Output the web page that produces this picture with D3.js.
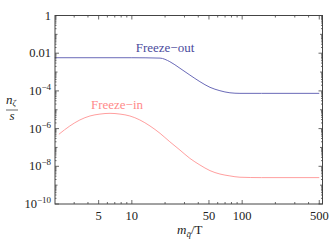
<!DOCTYPE html>
<html><head><meta charset="utf-8">
<script src="https://cdn.jsdelivr.net/npm/d3@7"></script>
<style>
html,body{margin:0;padding:0;background:#fff;}
</style></head>
<body>
<svg id="c" width="329" height="242"></svg>
<script>
// Data (x = m/T, y = log10(n/s))
const outX = [2, 10, 18, 22.1, 27.3, 33.6, 41.4, 51.1, 62.9, 77.5, 95.5, 150, 500];
const outY = [-2.24, -2.24, -2.26, -2.45, -2.80, -3.16, -3.51, -3.81, -3.99, -4.10, -4.13, -4.13, -4.13];
const inX = [2.18, 2.74, 3.38, 4.17, 5.14, 6.34, 7.8, 9.6, 11.8, 14.6, 18, 22.1, 27.3, 33.6, 41.4, 51.1, 62.9, 77.5, 95.5, 150, 500];
const inY = [-6.30, -5.86, -5.54, -5.33, -5.23, -5.19, -5.23, -5.33, -5.54, -5.86, -6.25, -6.70, -7.14, -7.58, -7.93, -8.23, -8.41, -8.51, -8.58, -8.60, -8.60];
const xTicks = [5, 10, 50, 100, 500];
const yTicks = [0, -2, -4, -6, -8, -10];
const yTickLabels = ["1", "0.01", "10|−4", "10|−6", "10|−8", "10|−10"];

const FF = "'Liberation Serif','Times New Roman','DejaVu Serif',serif";
const svg = d3.select("#c");
const L = 55, R = 322.5, T = 15.5, B = 204;
const x = d3.scaleLog().domain([2.01, 535]).range([L, R]);
const y = d3.scaleLinear().domain([-10, 0]).range([B, T]);
const frameCol = "#444";

// curves
const line = d3.line().x(d => x(d[0])).y(d => y(d[1])).curve(d3.curveMonotoneX);
svg.append("path").attr("d", line(inX.map((v,i)=>[v,inY[i]])))
  .attr("fill","none").attr("stroke","#ff9f9f").attr("stroke-width",1);
svg.append("path").attr("d", line(outX.map((v,i)=>[v,outY[i]])))
  .attr("fill","none").attr("stroke","#6a6ab8").attr("stroke-width",1);

// frame
svg.append("rect").attr("x",L).attr("y",T).attr("width",R-L).attr("height",B-T)
  .attr("fill","none").attr("stroke",frameCol).attr("stroke-width",1);

// ticks
const xMinor = [];
[1,10,100].forEach(d=>{for(let k=2;k<=9;k++){const v=k*d; if(v>=2.01&&v<=535&&!xTicks.includes(v)) xMinor.push(v);}});
const g = svg.append("g").attr("stroke",frameCol).attr("stroke-width",0.8);
xTicks.forEach(v=>{
  g.append("line").attr("x1",x(v)).attr("x2",x(v)).attr("y1",B).attr("y2",B-4);
  g.append("line").attr("x1",x(v)).attr("x2",x(v)).attr("y1",T).attr("y2",T+4);
});
xMinor.forEach(v=>{
  g.append("line").attr("x1",x(v)).attr("x2",x(v)).attr("y1",B).attr("y2",B-2);
  g.append("line").attr("x1",x(v)).attr("x2",x(v)).attr("y1",T).attr("y2",T+2);
});
const yMinor = [];
for (let d=-10; d<0; d++){ for(let k=1;k<=9;k++){ const v=d+Math.log10(k); if(!(k===1 && d%2===0)) yMinor.push(v);} }
yTicks.forEach(v=>{
  g.append("line").attr("x1",L).attr("x2",L+4).attr("y1",y(v)).attr("y2",y(v));
  g.append("line").attr("x1",R).attr("x2",R-4).attr("y1",y(v)).attr("y2",y(v));
});
yMinor.forEach(v=>{
  const len = Number.isInteger(v) ? 2.5 : 1.5;
  g.append("line").attr("x1",L).attr("x2",L+len).attr("y1",y(v)).attr("y2",y(v));
  g.append("line").attr("x1",R).attr("x2",R-len).attr("y1",y(v)).attr("y2",y(v));
});

// x tick labels
xTicks.forEach(v=>{
  svg.append("text").attr("x",x(v)).attr("y",220).attr("text-anchor","middle")
    .attr("font-family",FF).attr("font-size",12.5).attr("fill","#222").text(v);
});
// y tick labels
yTicks.forEach((v,i)=>{
  const lab = yTickLabels[i];
  const t = svg.append("text").attr("x",51).attr("y",y(v)+4).attr("text-anchor","end")
    .attr("font-family",FF).attr("font-size",12.5).attr("fill","#222");
  if (lab.includes("|")) {
    const [b,e] = lab.split("|");
    t.append("tspan").text(b);
    t.append("tspan").attr("dy",-5).attr("font-size",9).text(e);
  } else t.text(lab);
});

// series labels
svg.append("text").attr("x",165).attr("y",51.5).attr("text-anchor","middle")
  .attr("font-family",FF).attr("font-size",13).attr("fill","#4a4a9c").text("Freeze−out");
svg.append("text").attr("x",117).attr("y",109).attr("text-anchor","middle")
  .attr("font-family",FF).attr("font-size",13).attr("fill","#ff8a8a").text("Freeze−in");

// y axis label (fraction)
const yl = svg.append("text").attr("x",11).attr("y",104).attr("text-anchor","middle")
  .attr("font-family",FF).attr("font-size",13).attr("font-style","italic").attr("fill","#222");
yl.append("tspan").text("n");
yl.append("tspan").attr("dy",2).attr("font-size",8.5).text("ζ");
svg.append("line").attr("x1",6).attr("x2",18).attr("y1",110).attr("y2",110)
  .attr("stroke","#444").attr("stroke-width",0.8);
svg.append("text").attr("x",12).attr("y",120).attr("text-anchor","middle")
  .attr("font-family",FF).attr("font-size",13).attr("font-style","italic").attr("fill","#222").text("s");

// x axis label
const xl = svg.append("text").attr("x",177).attr("y",234).attr("font-family",FF).attr("font-size",13).attr("fill","#222");
xl.append("tspan").attr("font-style","italic").text("m");
xl.append("tspan").attr("dy",3).attr("font-size",9).attr("font-style","italic").text("q̄");
xl.append("tspan").attr("dy",-3).text("/T");
</script>
</body></html>
